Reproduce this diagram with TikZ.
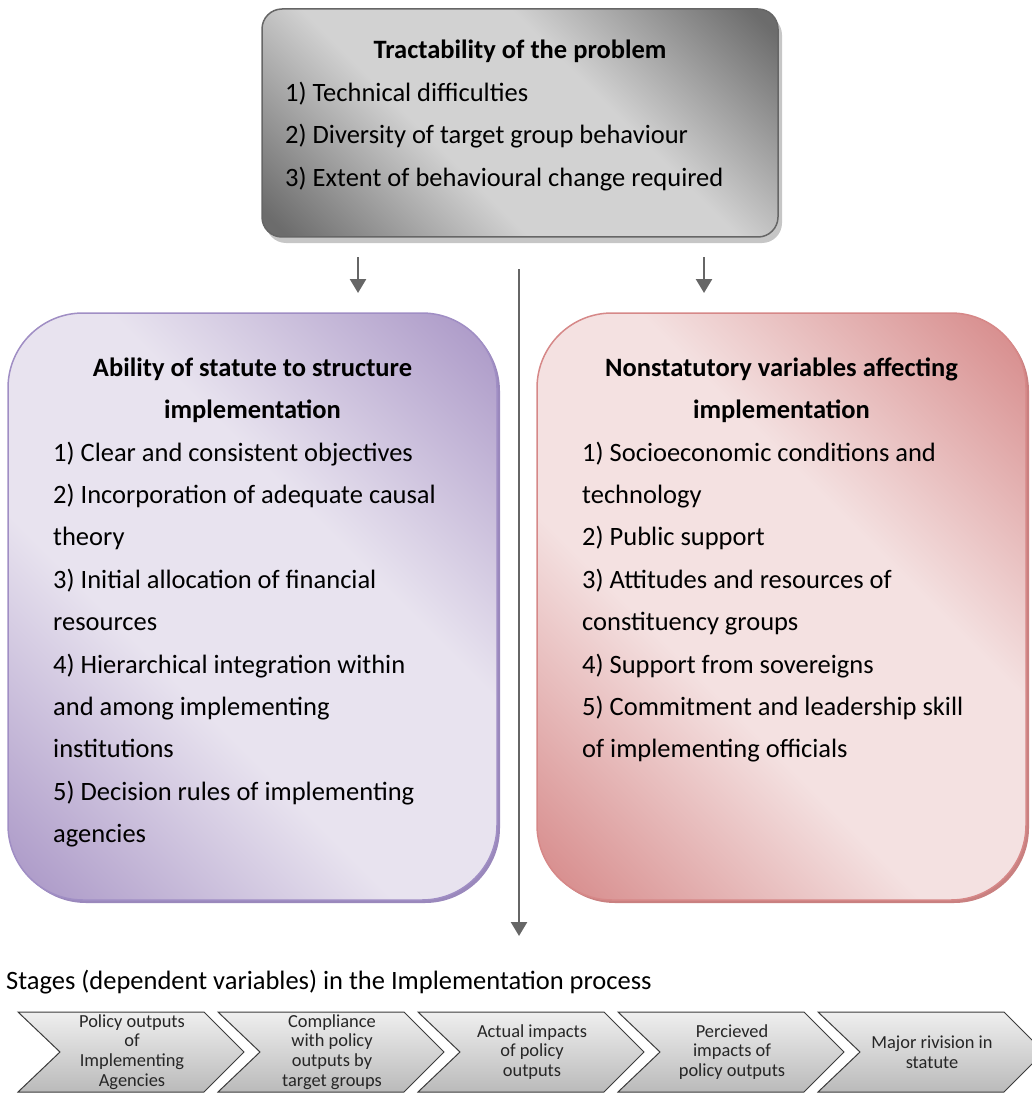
\documentclass[tikz,border=0pt]{standalone}
\usepackage{fontspec}
\setmainfont{Carlito}
\usetikzlibrary{arrows.meta}
\definecolor{graydark}{HTML}{6C6C6C}
\definecolor{graylight}{HTML}{D2D2D2}
\definecolor{grayedge}{HTML}{666666}
\definecolor{grayshadow}{HTML}{C6C6C6}
\definecolor{purpdark}{HTML}{AE9CC9}
\definecolor{purplight}{HTML}{E8E3EF}
\definecolor{purpedge}{HTML}{A08EC4}
\definecolor{purpshadow}{HTML}{9A88BC}
\definecolor{reddark}{HTML}{D88F8F}
\definecolor{redlight}{HTML}{F4E1E1}
\definecolor{rededge}{HTML}{D68888}
\definecolor{redshadow}{HTML}{C98080}
\definecolor{connector}{HTML}{666666}
\definecolor{chevtop}{HTML}{EFEFEF}
\definecolor{chevbot}{HTML}{BABABA}
\definecolor{chevedge}{HTML}{3C3C3C}
\pgfdeclareverticalshading{grayglow}{100bp}{color(0bp)=(graydark); color(17bp)=(graydark);
  color(40bp)=(graylight); color(60bp)=(graylight); color(83bp)=(graydark); color(100bp)=(graydark)}
\pgfdeclareverticalshading{purpglow}{100bp}{color(0bp)=(purpdark); color(17bp)=(purpdark);
  color(40bp)=(purplight); color(60bp)=(purplight); color(83bp)=(purpdark); color(100bp)=(purpdark)}
\pgfdeclareverticalshading{redglow}{100bp}{color(0bp)=(reddark); color(17bp)=(reddark);
  color(40bp)=(redlight); color(60bp)=(redlight); color(83bp)=(reddark); color(100bp)=(reddark)}
\begin{document}
\begin{tikzpicture}[x=1pt,y=-1pt,
  bodytext/.style={inner sep=0pt, font=\fontsize{26.5}{32}\selectfont, anchor=base west},
  titletext/.style={inner sep=0pt, font=\fontsize{26.5}{32}\selectfont\bfseries, anchor=base},
  topbox/.style={draw=grayedge, line width=1.5pt, rounded corners=20pt,
    shading=grayglow, shading angle=-45},
  leftbox/.style={draw=purpedge, line width=1.5pt, rounded corners=75pt,
    shading=purpglow, shading angle=-45},
  rightbox/.style={draw=rededge, line width=1.5pt, rounded corners=75pt,
    shading=redglow, shading angle=-45},
  conn/.style={draw=connector, line width=2.5pt, -{Triangle[width=16pt,length=14pt]}},
  chevron/.style={draw=chevedge, line width=1pt, top color=chevtop, bottom color=chevbot},
  chevtext/.style={inner sep=0pt, align=center, font=\fontsize{18.4}{19.8}\selectfont, text=black!85}
]
\useasboundingbox (0,0) rectangle (1031,1099);

% ---- top box ----
\fill[grayshadow, rounded corners=20pt] (266,15) rectangle (782,243);
\node[topbox, minimum width=516pt, minimum height=228pt] (top) at (520,123) {};
\node[titletext] (ttitle) at (520,59) {Tractability of the problem};
\node[bodytext] (t1) at (285,101.5) {1) Technical difficulties};
\node[bodytext] (t2) at (285,144) {2) Diversity of target group behaviour};
\node[bodytext] (t3) at (285,186.5) {3) Extent of behavioural change required};

% ---- left box ----
\fill[purpshadow, rounded corners=75pt] (11,316) rectangle (500,903);
\node[leftbox, minimum width=489pt, minimum height=587pt] (left) at (252.5,606.5) {};
\node[titletext] (lt1) at (252.5,376) {Ability of statute to structure};
\node[titletext] (lt2) at (252.5,418.4) {implementation};
\foreach \k/\txt in {0/{1) Clear and consistent objectives},
                     1/{2) Incorporation of adequate causal},
                     2/{theory},
                     3/{3) Initial allocation of financial},
                     4/{resources},
                     5/{4) Hierarchical integration within},
                     6/{and among implementing},
                     7/{institutions},
                     8/{5) Decision rules of implementing},
                     9/{agencies}}
  \node[bodytext] (l\k) at (53,461+42.4*\k) {\txt};

% ---- right box ----
\fill[redshadow, rounded corners=75pt] (540,316) rectangle (1029,903);
\node[rightbox, minimum width=489pt, minimum height=587pt] (right) at (781.5,606.5) {};
\node[titletext] (rt1) at (781.5,376) {Nonstatutory variables affecting};
\node[titletext] (rt2) at (781.5,418.4) {implementation};
\foreach \k/\txt in {0/{1) Socioeconomic conditions and},
                     1/{technology},
                     2/{2) Public support},
                     3/{3) Attitudes and resources of},
                     4/{constituency groups},
                     5/{4) Support from sovereigns},
                     6/{5) Commitment and leadership skill},
                     7/{of implementing officials}}
  \node[bodytext] (r\k) at (582,461+42.4*\k) {\txt};

% ---- connectors ----
\coordinate (a1s) at (358,257);
\coordinate (a1e) at (358,293);
\coordinate (a2s) at (704,257);
\coordinate (a2e) at (704,293);
\coordinate (vs) at (519,269);
\coordinate (ve) at (519,936);
\draw[conn] (a1s) -- (a1e);
\draw[conn] (a2s) -- (a2e);
\draw[conn] (vs) -- (ve);

% ---- stages ----
\node[bodytext] (stages) at (6,989)
  {Stages (dependent variables) in the Implementation process};

\foreach \i in {0,...,4}{
  \pgfmathsetmacro{\xl}{18+200*\i}
  \path[chevron] (\xl,1012) -- (\xl+186,1012) -- (\xl+226,1052) -- (\xl+186,1092)
     -- (\xl,1092) -- (\xl+42,1052) -- cycle;
}
\node[chevtext] (c1) at (132,1052) {Policy outputs\\of\\Implementing\\Agencies};
\node[chevtext] (c2) at (332,1052) {Compliance\\with policy\\outputs by\\target groups};
\node[chevtext] (c3) at (532,1052) {Actual impacts\\of policy\\outputs};
\node[chevtext] (c4) at (732,1052) {Percieved\\impacts of\\policy outputs};
\node[chevtext] (c5) at (932,1052) {Major rivision in\\statute};
\end{tikzpicture}
\end{document}
